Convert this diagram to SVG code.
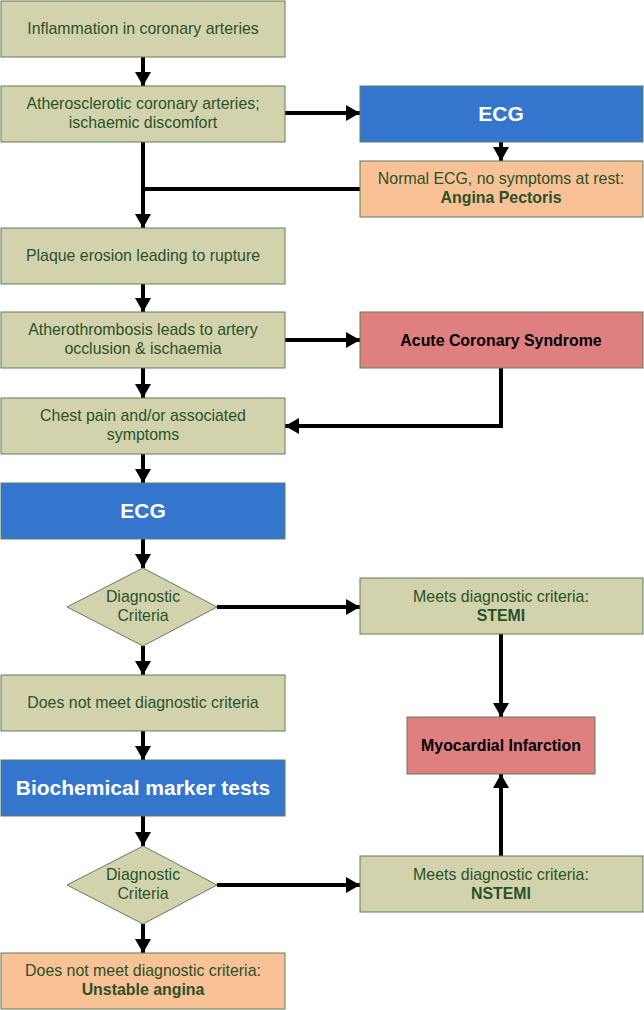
<svg xmlns="http://www.w3.org/2000/svg" width="644" height="1010" viewBox="0 0 644 1010">
<style>
.g{fill:#d2d3ac;stroke:#5e7e5e;stroke-width:1}
.b{fill:#3476ce;stroke:#5e7e5e;stroke-width:1}
.o{fill:#f8c196;stroke:#5e7e5e;stroke-width:1}
.r{fill:#e07f7f;stroke:#5e7e5e;stroke-width:1}
text{font-family:"Liberation Sans",Arial,sans-serif;font-size:15.9px;text-anchor:middle;fill:#2a522a}
.bt{font-weight:bold}
.w{fill:#ffffff;font-weight:bold;font-size:21px}
.k{fill:#000000;font-weight:bold}
.c path{fill:none;stroke:#000;stroke-width:4}
</style>
<defs>
<marker id="ah" markerUnits="userSpaceOnUse" markerWidth="14" markerHeight="16" refX="14" refY="8" orient="auto">
<path d="M0,0 L14,8 L0,16 z" fill="#000"/>
</marker>
</defs>
<g class="c" id="connectors">
<path d="M143,57 L143,86" marker-end="url(#ah)"/>
<path d="M285,113 L360,113" marker-end="url(#ah)"/>
<path d="M501,142 L501,161" marker-end="url(#ah)"/>
<path d="M143,142 L143,228" marker-end="url(#ah)"/>
<path d="M360,189 L143,189"/>
<path d="M143,284 L143,312" marker-end="url(#ah)"/>
<path d="M285,340 L360,340" marker-end="url(#ah)"/>
<path d="M143,368 L143,398" marker-end="url(#ah)"/>
<path d="M501,368 L501,426 L285,426" marker-end="url(#ah)"/>
<path d="M143,454 L143,483" marker-end="url(#ah)"/>
<path d="M143,539 L143,568" marker-end="url(#ah)"/>
<path d="M217,607 L360,607" marker-end="url(#ah)"/>
<path d="M143,646 L143,675" marker-end="url(#ah)"/>
<path d="M501,634 L501,717" marker-end="url(#ah)"/>
<path d="M143,731 L143,760" marker-end="url(#ah)"/>
<path d="M143,816 L143,846" marker-end="url(#ah)"/>
<path d="M217,885 L360,885" marker-end="url(#ah)"/>
<path d="M143,924 L143,953" marker-end="url(#ah)"/>
<path d="M501,856 L501,774" marker-end="url(#ah)"/>
</g>
<g id="n1"><rect class="g" x="1" y="1" width="284" height="56"/><text x="143" y="34">Inflammation in coronary arteries</text></g>
<g id="n2"><rect class="g" x="1" y="86" width="284" height="56"/><text x="143" y="109">Atherosclerotic coronary arteries;</text><text x="143" y="128">ischaemic discomfort</text></g>
<g id="n3"><rect class="b" x="360" y="86" width="283" height="56"/><text class="w" x="501" y="121">ECG</text></g>
<g id="n4"><rect class="o" x="360" y="161" width="283" height="56"/><text x="501" y="184">Normal ECG, no symptoms at rest:</text><text class="bt" x="501" y="203">Angina Pectoris</text></g>
<g id="n5"><rect class="g" x="1" y="228" width="284" height="56"/><text x="143" y="261">Plaque erosion leading to rupture</text></g>
<g id="n6"><rect class="g" x="1" y="312" width="284" height="56"/><text x="143" y="335">Atherothrombosis leads to artery</text><text x="143" y="354">occlusion &amp; ischaemia</text></g>
<g id="n7"><rect class="r" x="360" y="312" width="283" height="56"/><text class="k" x="501" y="346">Acute Coronary Syndrome</text></g>
<g id="n8"><rect class="g" x="1" y="398" width="284" height="56"/><text x="143" y="421">Chest pain and/or associated</text><text x="143" y="440">symptoms</text></g>
<g id="n9"><rect class="b" x="1" y="483" width="284" height="56"/><text class="w" x="143" y="518">ECG</text></g>
<g id="n10"><polygon class="g" points="143,568 217,607 143,646 67,607"/><text x="143" y="602">Diagnostic</text><text x="143" y="621">Criteria</text></g>
<g id="n11"><rect class="g" x="360" y="578" width="283" height="56"/><text x="501" y="602">Meets diagnostic criteria:</text><text class="bt" x="501" y="621">STEMI</text></g>
<g id="n12"><rect class="g" x="1" y="675" width="284" height="56"/><text x="143" y="708">Does not meet diagnostic criteria</text></g>
<g id="n13"><rect class="r" x="407" y="717" width="188" height="57"/><text class="k" x="501" y="751">Myocardial Infarction</text></g>
<g id="n14"><rect class="b" x="1" y="760" width="284" height="56"/><text class="w" x="143" y="795">Biochemical marker tests</text></g>
<g id="n15"><polygon class="g" points="143,846 217,885 143,924 67,885"/><text x="143" y="880">Diagnostic</text><text x="143" y="899">Criteria</text></g>
<g id="n16"><rect class="g" x="360" y="856" width="283" height="56"/><text x="501" y="880">Meets diagnostic criteria:</text><text class="bt" x="501" y="899">NSTEMI</text></g>
<g id="n17"><rect class="o" x="1" y="953" width="284" height="56"/><text x="143" y="976">Does not meet diagnostic criteria:</text><text class="bt" x="143" y="995">Unstable angina</text></g>
</svg>
